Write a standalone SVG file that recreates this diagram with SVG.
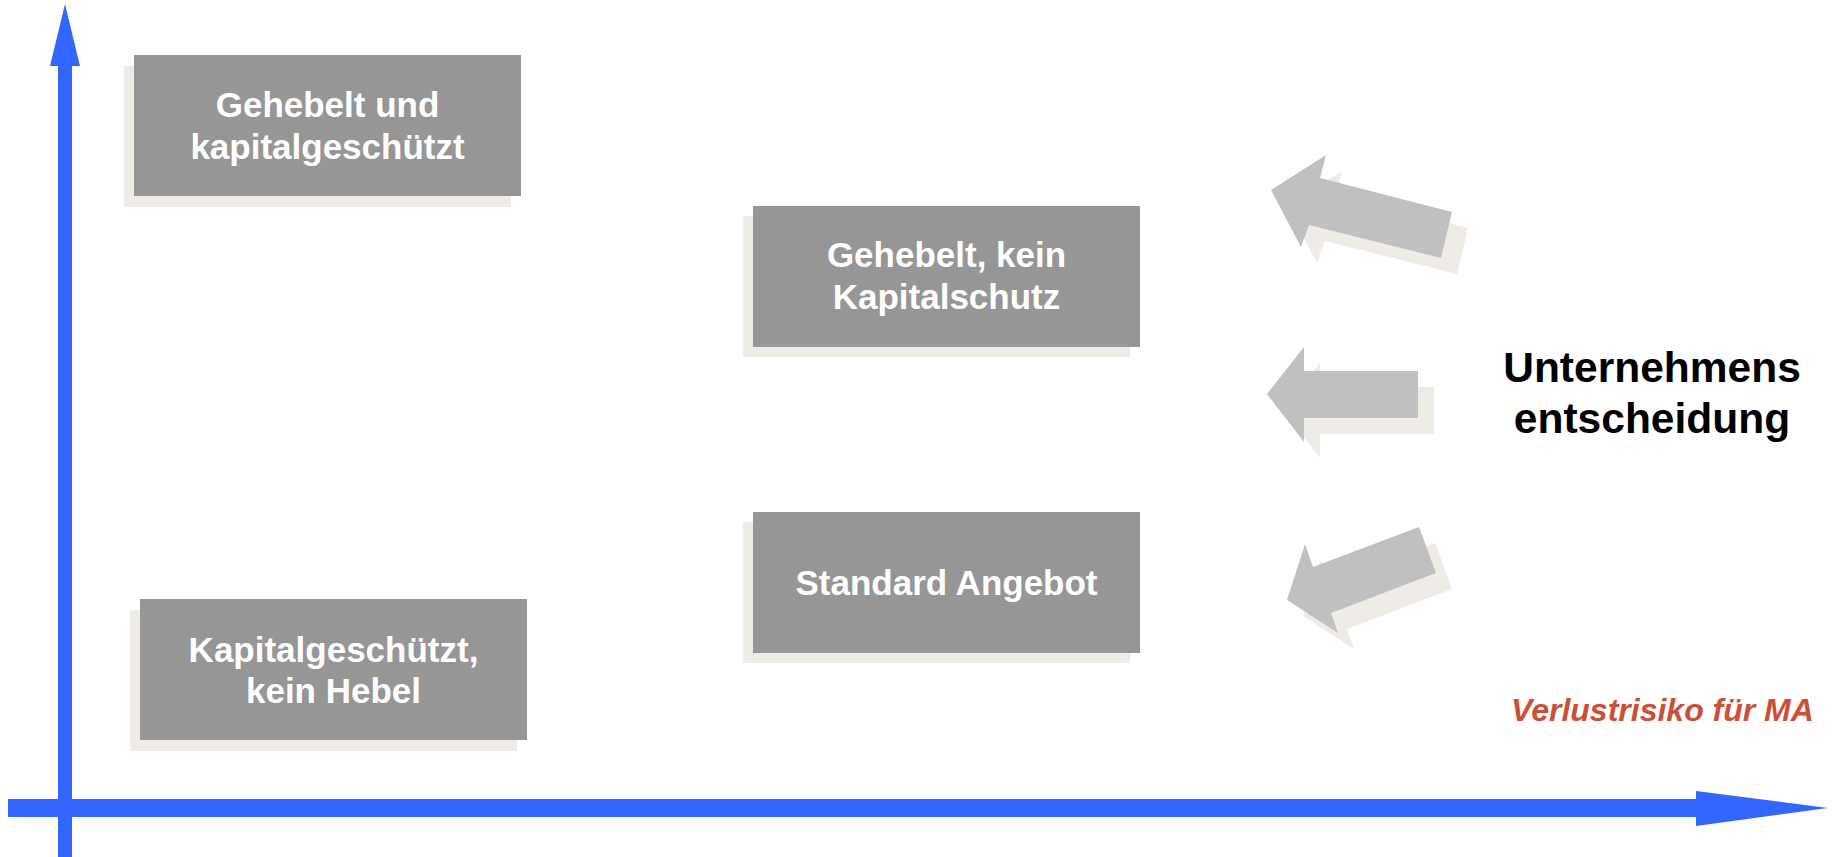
<svg xmlns="http://www.w3.org/2000/svg" width="1834" height="857" viewBox="0 0 1834 857">
  <style>
    .box { fill: #969696; }
    .shadow { fill: #EFECE7; }
    .btxt { font-family: "Liberation Sans", Arial, sans-serif; font-weight: bold; font-size: 35px; fill: #FFFFFF; text-anchor: middle; }
    .axis { fill: #3366FF; }
    .arr { fill: #C0C0C0; }
    .arrsh { fill: #EFECE7; }
    .big { font-family: "Liberation Sans", Arial, sans-serif; font-weight: bold; font-size: 42.5px; fill: #000000; text-anchor: middle; }
    .risk { font-family: "Liberation Sans", Arial, sans-serif; font-weight: bold; font-style: italic; font-size: 32px; fill: #CC4F38; }
  </style>
  <rect width="1834" height="857" fill="#FFFFFF"/>

  <g id="axes">
    <rect class="axis" x="58" y="60" width="14" height="797"/>
    <polygon class="axis" points="65,4 80,66 50,66"/>
    <rect class="axis" x="8" y="799" width="1692" height="18"/>
    <polygon class="axis" points="1696,791 1828,808 1696,826"/>
  </g>

  <g id="node-gehebelt-kapitalgeschuetzt">
    <rect class="shadow" x="124" y="66" width="387" height="141"/>
    <rect class="box" x="134" y="55" width="387" height="141"/>
    <text class="btxt" x="327.5" y="117">Gehebelt und</text>
    <text class="btxt" x="327.5" y="159">kapitalgeschützt</text>
  </g>

  <g id="node-gehebelt-kein-kapitalschutz">
    <rect class="shadow" x="743" y="216" width="387" height="141"/>
    <rect class="box" x="753" y="206" width="387" height="141"/>
    <text class="btxt" x="946.5" y="267">Gehebelt, kein</text>
    <text class="btxt" x="946.5" y="309">Kapitalschutz</text>
  </g>

  <g id="node-standard-angebot">
    <rect class="shadow" x="743" y="522" width="387" height="141"/>
    <rect class="box" x="753" y="512" width="387" height="141"/>
    <text class="btxt" x="946.5" y="595">Standard Angebot</text>
  </g>

  <g id="node-kapitalgeschuetzt-kein-hebel">
    <rect class="shadow" x="130" y="610" width="387" height="141"/>
    <rect class="box" x="140" y="599" width="387" height="141"/>
    <text class="btxt" x="333.5" y="662">Kapitalgeschützt,</text>
    <text class="btxt" x="333.5" y="703">kein Hebel</text>
  </g>

  <g id="connectors">
    <g transform="translate(16,16)">
      <polygon class="arrsh" points="1271,190 1326,155 1320,178 1452,212 1441,258 1309,225 1301,247"/>
      <polygon class="arrsh" points="1267,394 1304,347 1304,371 1418,371 1418,418 1304,418 1304,442"/>
      <polygon class="arrsh" points="1287,600 1305,544 1313,567 1419,527 1436,573 1331,613 1338,633"/>
    </g>
    <polygon class="arr" points="1271,190 1326,155 1320,178 1452,212 1441,258 1309,225 1301,247"/>
    <polygon class="arr" points="1267,394 1304,347 1304,371 1418,371 1418,418 1304,418 1304,442"/>
    <polygon class="arr" points="1287,600 1305,544 1313,567 1419,527 1436,573 1331,613 1338,633"/>
  </g>

  <g id="node-unternehmensentscheidung">
    <text class="big" x="1652" y="382">Unternehmens</text>
    <text class="big" x="1652" y="433">entscheidung</text>
  </g>

  <g id="label-verlustrisiko">
    <text class="risk" x="1511" y="721">Verlustrisiko für MA</text>
  </g>
</svg>
